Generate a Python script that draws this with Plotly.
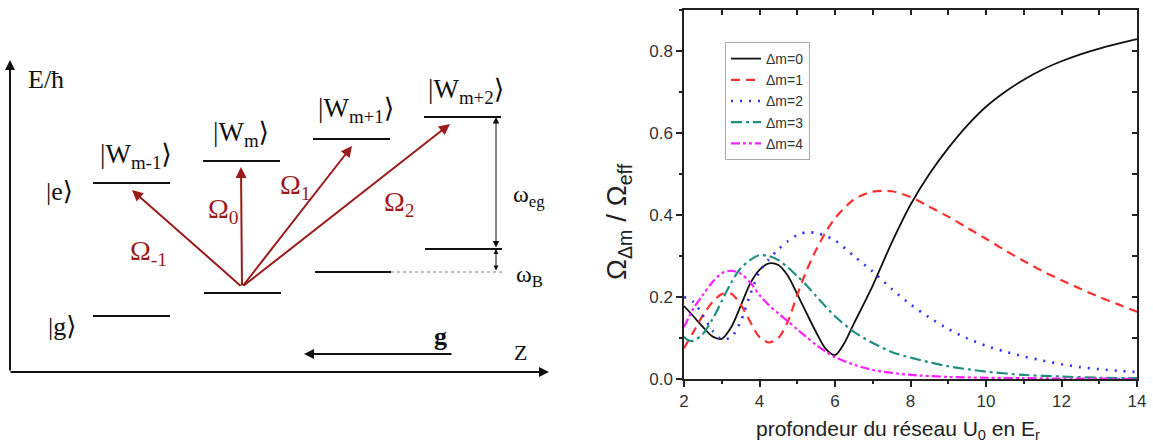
import plotly.graph_objects as go

W, H = 1153, 444

# ---------------- right panel data ----------------
dm0_x = [2.0, 2.25, 2.5, 2.75, 3.0, 3.25, 3.5, 3.75, 4.0, 4.25, 4.5, 4.75, 5.0, 5.25, 5.5, 5.75, 6.0, 6.25, 6.5,
         7.0, 7.5, 8.0, 8.5, 9.0, 9.5, 10, 10.5, 11, 11.5, 12, 12.5, 13, 13.5, 14]
dm0_y = [0.178, 0.153, 0.127, 0.104, 0.098, 0.126, 0.178, 0.232, 0.266, 0.282, 0.278, 0.252, 0.207, 0.160, 0.114,
         0.074, 0.058, 0.088, 0.135, 0.228, 0.332, 0.425, 0.500, 0.563, 0.618, 0.664, 0.700, 0.730, 0.755, 0.775,
         0.792, 0.806, 0.818, 0.829]

dm1_x = [2.0, 2.25, 2.5, 2.75, 3.0, 3.25, 3.5, 3.75, 4.0, 4.25, 4.5, 4.75, 5.0, 5.25, 5.5, 5.75, 6.0, 6.5, 7.0,
         7.5, 8.0, 8.5, 9.0, 9.5, 10, 10.5, 11, 11.5, 12, 12.5, 13, 13.5, 14]
dm1_y = [0.075, 0.115, 0.155, 0.187, 0.207, 0.208, 0.182, 0.140, 0.102, 0.089, 0.100, 0.140, 0.205, 0.265, 0.315,
         0.358, 0.392, 0.438, 0.457, 0.458, 0.444, 0.420, 0.396, 0.369, 0.342, 0.314, 0.288, 0.263, 0.241, 0.220,
         0.200, 0.182, 0.164]

dm2_x = [2.0, 2.25, 2.5, 2.75, 3.0, 3.25, 3.5, 3.75, 4.0, 4.25, 4.5, 4.75, 5.0, 5.25, 5.5, 5.75, 6.0, 6.5, 7.0,
         7.5, 8.0, 8.5, 9.0, 9.5, 10, 10.5, 11, 11.5, 12, 12.5, 13, 13.5, 14]
dm2_y = [0.200, 0.188, 0.155, 0.118, 0.097, 0.102, 0.140, 0.205, 0.262, 0.292, 0.316, 0.336, 0.351, 0.358, 0.356,
         0.349, 0.338, 0.300, 0.262, 0.220, 0.182, 0.150, 0.122, 0.099, 0.081, 0.067, 0.055, 0.045, 0.036, 0.029,
         0.024, 0.020, 0.017]

dm3_x = [2.0, 2.1, 2.25, 2.5, 2.75, 3.0, 3.25, 3.5, 3.75, 4.0, 4.25, 4.5, 4.75, 5.0, 5.25, 5.5, 5.75, 6.0, 6.5,
         7.0, 7.5, 8.0, 8.5, 9.0, 9.5, 10, 11, 12, 13, 14]
dm3_y = [0.103, 0.095, 0.093, 0.110, 0.145, 0.190, 0.235, 0.270, 0.290, 0.302, 0.300, 0.290, 0.272, 0.251, 0.228,
         0.202, 0.177, 0.153, 0.115, 0.088, 0.066, 0.052, 0.041, 0.031, 0.024, 0.018, 0.010, 0.006, 0.003, 0.002]

dm4_x = [2.0, 2.25, 2.5, 2.75, 3.0, 3.25, 3.5, 3.75, 4.0, 4.25, 4.5, 4.75, 5.0, 5.25, 5.5, 5.75, 6.0, 6.5, 7.0,
         7.5, 8.0, 9.0, 10, 11, 12, 13, 14]
dm4_y = [0.127, 0.172, 0.205, 0.236, 0.258, 0.264, 0.257, 0.236, 0.205, 0.180, 0.160, 0.141, 0.121, 0.102, 0.083,
         0.067, 0.053, 0.035, 0.022, 0.015, 0.010, 0.005, 0.003, 0.002, 0.001, 0.001, 0.0]

series_names = ["Δm=0", "Δm=1", "Δm=2", "Δm=3", "Δm=4"]
series_x = [dm0_x, dm1_x, dm2_x, dm3_x, dm4_x]
series_y = [dm0_y, dm1_y, dm2_y, dm3_y, dm4_y]
series_colors = ["#111111", "#ff3030", "#3030ff", "#1f8f80", "#ff20ff"]
series_dash = ["solid", "9px,6px", "2px,7px", "11px,4px,3px,4px", "9px,3px,3px,3px,3px,3px"]
series_width = [1.8, 2.2, 2.6, 2.2, 2.2]

x_ticks = [2, 4, 6, 8, 10, 12, 14]
y_ticks = [0.0, 0.2, 0.4, 0.6, 0.8]

# ---------------- left panel: schematic geometry (pixel units) ----------------
level_x0 = [93, 93, 203, 204, 313, 315, 424, 425]
level_x1 = [170, 170, 280, 281, 390, 391, 501, 502]
level_y = [183, 316, 161, 293, 139, 272, 117, 249]

omega_tail = (242, 287)
omega_tips = [(132, 190), (241, 167), (352, 146), (450, 124)]

fig = go.Figure()

for name, xs, ys, c, d, w in zip(series_names, series_x, series_y, series_colors, series_dash, series_width):
    fig.add_trace(go.Scatter(x=xs, y=ys, mode="lines", name=name, legendgroup=name,
                             line=dict(color=c, dash=d, width=w, shape="spline", smoothing=0.8),
                             xaxis="x", yaxis="y"))

# invisible traces so the schematic / mirror axes exist
fig.add_trace(go.Scatter(x=[300], y=[200], mode="markers", marker=dict(opacity=0), showlegend=False,
                         hoverinfo="skip", xaxis="x2", yaxis="y2"))
fig.add_trace(go.Scatter(x=[8], y=[0.4], mode="markers", marker=dict(opacity=0), showlegend=False,
                         hoverinfo="skip", xaxis="x3", yaxis="y3"))

axis_col = "#222222"
tick_font = dict(family="Liberation Sans, Arial", size=17, color="#333333")

fig.update_layout(
    width=W, height=H, margin=dict(l=0, r=0, t=0, b=0, pad=0, autoexpand=False),
    paper_bgcolor="white", plot_bgcolor="white",
    showlegend=True,
    legend=dict(x=725 / W, y=1 - 42 / H, xanchor="left", yanchor="top",
                bgcolor="white", bordercolor="#aaaaaa", borderwidth=1,
                font=dict(family="Liberation Sans, Arial", size=14, color="#333333"),
                tracegroupgap=0),
    xaxis=dict(domain=[684 / W, 1137 / W], range=[2, 14], tickvals=x_ticks, ticks="outside",
               ticklen=6, tickwidth=1.5, tickcolor=axis_col, showline=True, linecolor=axis_col, linewidth=1.5,
               showgrid=False, zeroline=False, tickfont=tick_font, anchor="y", automargin=False,
               minor=dict(dtick=1, tick0=2, ticks="outside", ticklen=3, tickwidth=1.5, tickcolor=axis_col)),
    yaxis=dict(domain=[65 / H, 434 / H], range=[0, 0.9], tickvals=y_ticks, tickformat=".1f", ticks="outside",
               ticklen=6, tickwidth=1.5, tickcolor=axis_col, showline=True, linecolor=axis_col, linewidth=1.5,
               showgrid=False, zeroline=False, tickfont=tick_font, anchor="x", automargin=False,
               minor=dict(dtick=0.1, tick0=0, ticks="outside", ticklen=3, tickwidth=1.5, tickcolor=axis_col)),
    xaxis3=dict(overlaying="x", side="top", anchor="y", range=[2, 14], dtick=1, tick0=2, ticks="inside",
                ticklen=5, tickwidth=1.5, tickcolor=axis_col, showticklabels=False, showline=True,
                linecolor=axis_col, linewidth=1.5, showgrid=False, zeroline=False, automargin=False),
    yaxis3=dict(overlaying="y", side="right", anchor="x", range=[0, 0.9], dtick=0.1, tick0=0, ticks="inside",
                ticklen=5, tickwidth=1.5, tickcolor=axis_col, showticklabels=False, showline=True,
                linecolor=axis_col, linewidth=1.5, showgrid=False, zeroline=False, automargin=False),
    xaxis2=dict(domain=[0, 576.5 / W], range=[0, 576.5], visible=False, anchor="y2", fixedrange=True,
                automargin=False),
    yaxis2=dict(domain=[0, 1], range=[H, 0], visible=False, anchor="x2", fixedrange=True, automargin=False),
)

shapes = []
for x0, x1, y in zip(level_x0, level_x1, level_y):
    shapes.append(dict(type="line", xref="x2", yref="y2", x0=x0, x1=x1, y0=y, y1=y,
                       line=dict(color="#111111", width=2)))
# dotted continuation of W_{m+1} ground level
shapes.append(dict(type="line", xref="x2", yref="y2", x0=391, x1=502, y0=272, y1=272,
                   line=dict(color="#aaaaaa", width=1.5, dash="dot")))
fig.update_layout(shapes=shapes)

ann = []

def arrow(tip, tail, color, width, head=2, size=1.0, both=False):
    d = dict(x=tip[0], y=tip[1], ax=tail[0], ay=tail[1], xref="x2", yref="y2", axref="x2", ayref="y2",
             text="", showarrow=True, arrowhead=head, arrowsize=size, arrowwidth=width, arrowcolor=color,
             standoff=0, startstandoff=0)
    if both:
        d.update(arrowside="end+start", startarrowhead=head, startarrowsize=size)
    ann.append(d)

# energy / position axes
arrow((10, 60), (10, 372), "#111111", 2, head=2, size=1.0)
arrow((549, 372), (9, 372), "#111111", 2, head=2, size=1.0)
# Rabi transitions
red = "#9a1b1b"
for tip in omega_tips:
    arrow(tip, omega_tail, red, 2, head=2, size=1.1)
# omega_eg and omega_B
arrow((496, 117), (496, 249), "#111111", 1, head=2, size=1.3, both=True)
arrow((496, 249), (496, 272), "#111111", 1, head=2, size=1.0, both=True)
# gravity
arrow((304, 354), (453, 354), "#111111", 2, head=2, size=1.0)

serif = "Liberation Serif, Times New Roman, DejaVu Serif"

def label(x, y, text, size=26, color="#111111", xanchor="left"):
    ann.append(dict(x=x, y=y, xref="x2", yref="y2", text=text, showarrow=False, xanchor=xanchor,
                    yanchor="middle", font=dict(family=serif, size=size, color=color)))

label(26, 79, "E/ħ", 26)
label(44, 191, "|e⟩", 26)
label(46, 326, "|g⟩", 26)
label(98, 156, "|W<sub>m-1</sub>⟩", 27)
label(211, 134, "|W<sub>m</sub>⟩", 27)
label(316, 110, "|W<sub>m+1</sub>⟩", 27)
label(426, 91, "|W<sub>m+2</sub>⟩", 27)
label(128, 252, "Ω<sub>-1</sub>", 28, red)
label(206, 210, "Ω<sub>0</sub>", 28, red)
label(278, 186, "Ω<sub>1</sub>", 28, red)
label(382, 203, "Ω<sub>2</sub>", 28, red)
label(511, 196, "ω<sub>eg</sub>", 24)
label(514, 276, "ω<sub>B</sub>", 24)
label(440, 336, "<b>g</b>", 26, xanchor="center")
label(520, 352, "Z", 22, xanchor="center")

# right panel axis titles
sans = "Liberation Sans, Arial"
ann.append(dict(x=618 / W, y=1 - 222 / H, xref="paper", yref="paper", text="Ω<sub>Δm</sub> / Ω<sub>eff</sub>",
                showarrow=False, textangle=-90, xanchor="center", yanchor="middle",
                font=dict(family=sans, size=28, color="#222222")))
ann.append(dict(x=898 / W, y=1 - 430 / H, xref="paper", yref="paper",
                text="profondeur du réseau U<sub>0</sub> en E<sub>r</sub>",
                showarrow=False, xanchor="center", yanchor="middle",
                font=dict(family=sans, size=21, color="#222222")))

fig.update_layout(annotations=ann)
fig.write_html("out.html", config={"displayModeBar": False},
               post_script="document.body.style.margin='0';document.body.style.overflow='hidden';")
